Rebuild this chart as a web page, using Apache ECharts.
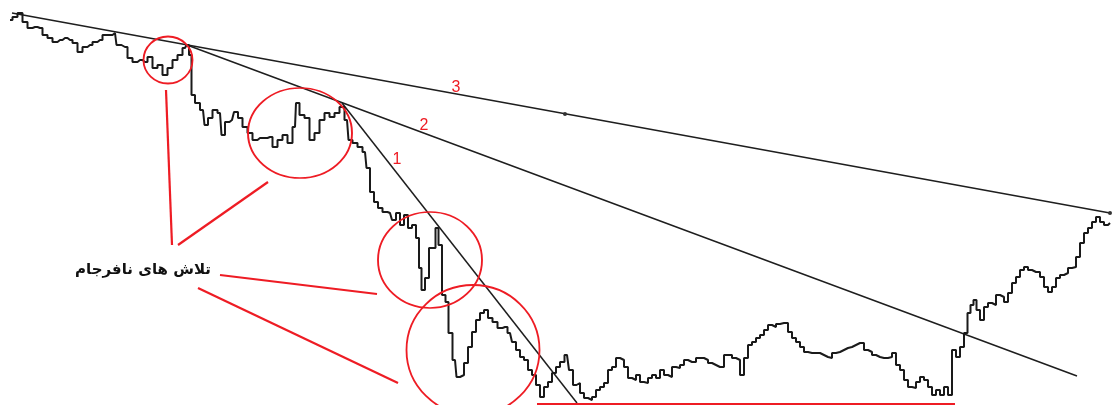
<!DOCTYPE html>
<html>
<head>
<meta charset="utf-8">
<script src="https://cdn.jsdelivr.net/npm/echarts@6/dist/echarts.min.js"></script>
<style>html,body{margin:0;padding:0;background:#fff}#c{width:1115px;height:405px}</style>
</head>
<body>
<div id="c"></div>
<script>
// price path: [time, price]
const priceBars = [
[10,385],[15,388],[20,392],[25,383],[30,377],[35,378],[40,377],[45,370],[50,367],[55,363],
[60,365],[65,367],[70,365],[75,362],[80,353],[85,358],[90,360],[95,363],[100,365],[105,370],
[110,370],[115,372],[118,360],[125,358],[130,347],[135,343],[140,345],[145,343],[150,348],[155,337],
[160,340],[165,330],[170,337],[175,345],[180,350],[185,357],[188,360],[190,350],[193,310],[197,302],
[203,295],[206,280],[210,287],[215,295],[220,292],[223,270],[227,283],[232,285],[236,293],[240,287],
[245,278],[250,272],[255,265],[260,267],[265,267],[270,268],[275,258],[280,265],[285,270],[290,262],
[295,278],[297,302],[302,290],[307,287],[312,265],[317,272],[322,285],[327,292],[332,288],[337,292],
[342,298],[347,285],[350,265],[355,262],[360,258],[365,253],[368,237],[372,213],[376,203],[380,197],
[385,193],[390,192],[394,185],[398,192],[402,180],[406,190],[410,177],[414,180],[418,167],[420,137],
[423,115],[427,127],[431,157],[434,157],[437,177],[440,160],[444,110],[447,103],[450,72],[455,45],
[458,28],[462,30],[466,42],[470,58],[474,73],[478,85],[482,92],[486,95],[490,87],[495,83],
[500,77],[505,78],[510,72],[514,63],[518,55],[522,48],[526,45],[530,35],[534,30],[538,20],
[542,8],[546,18],[550,23],[554,32],[558,38],[562,43],[567,50],[571,35],[575,20],[578,22],
[582,12],[586,7],[590,5],[594,8],[598,15],[602,18],[606,22],[610,35],[614,38],[618,47],
[622,45],[626,38],[630,27],[634,25],[638,30],[642,23],[646,22],[650,27],[654,30],[658,27],
[662,35],[666,30],[670,28],[674,38],[678,37],[682,40],[686,45],[690,43],[694,43],[698,47],
[702,47],[706,45],[710,42],[714,40],[718,38],[722,38],[726,50],[730,50],[734,47],[738,45],
[742,30],[746,47],[750,60],[754,63],[758,67],[762,70],[766,75],[770,80],[774,78],[778,81],
[782,82],[786,82],[790,73],[794,67],[798,63],[802,58],[806,53],[810,52],[814,52],[818,52],
[822,50],[826,48],[830,47],[834,52],[838,53],[842,55],[846,57],[850,58],[854,60],[858,62],
[862,62],[866,55],[870,53],[874,50],[878,48],[882,47],[886,47],[890,48],[894,52],[898,40],
[902,35],[906,25],[910,18],[914,17],[918,23],[922,28],[926,25],[930,18],[934,10],[938,15],
[942,10],[946,18],[950,10],[954,55],[958,48],[962,58],[966,72],[969,92],[972,100],[975,105],
[978,95],[982,85],[986,98],[990,102],[994,100],[998,110],[1002,108],[1006,103],[1010,112],[1014,122],
[1018,128],[1022,135],[1026,138],[1030,135],[1034,133],[1038,133],[1042,128],[1046,118],[1050,113],[1054,118],
[1058,127],[1062,130],[1066,132],[1070,137],[1074,138],[1078,148],[1082,162],[1086,172],[1090,177],[1094,183],
[1098,188],[1102,183],[1106,180],[1110,182]
];

// trend lines (start, end) and their labels
const trendLines = [
  [[12,392],[1110,192]],
  [[187,360],[1077,29]],
  [[342,302],[577,2]]
];
const trendDots = [[565,291],[1110,192]];
const trendLabels = [
  {name:'3', value:[456,317]},
  {name:'2', value:[424,279]},
  {name:'1', value:[397,245]}
];

// failed-attempt circles: centre [time, price]
const circleCentres = [[168,345],[300,272],[430,145],[473,55]];
const circleSizes = [[49,47],[104,90],[104,96],[133,130]];

// pointer lines from the caption to the circles
const pointerLines = [
  [[166,315],[172,160]],
  [[178,160],[268,223]],
  [[220,130],[377,111]],
  [[198,117],[398,22]]
];
const supportLine = [[537,1],[955,1]];
const caption = {text:'تلاش های نافرجام', at:[143,135]};

const RED = '#ee1c24';
const series = [];

series.push({
  type:'line', data:priceBars, showSymbol:false, clip:false, z:3, step:'middle',
  lineStyle:{color:'#1a1a1a', width:2}
});
trendLines.forEach(seg => series.push({
  type:'line', data:seg, showSymbol:false, clip:false, z:2,
  lineStyle:{color:'#1e1e1e', width:1.5}
}));
series.push({
  type:'scatter', data:trendDots, symbolSize:4, z:4,
  itemStyle:{color:'#333', opacity:1}
});
series.push({
  type:'scatter', z:5,
  data:trendLabels.map(d=>({name:d.name, value:d.value})),
  symbolSize:0,
  itemStyle:{opacity:1},
  label:{show:true, formatter:'{b}', color:RED, fontSize:16, fontFamily:'Liberation Sans, Arial, sans-serif', position:'inside'}
});
series.push({
  type:'scatter', z:6, clip:false,
  data:circleCentres.map((c,i)=>({value:c, symbolSize:circleSizes[i]})),
  symbol:'circle',
  itemStyle:{color:'rgba(0,0,0,0)', borderColor:RED, borderWidth:1.8, opacity:1}
});
pointerLines.forEach(seg => series.push({
  type:'line', data:seg, showSymbol:false, clip:false, z:5,
  lineStyle:{color:RED, width:2.2}
}));
series.push({
  type:'line', data:supportLine, showSymbol:false, clip:false, z:5,
  lineStyle:{color:RED, width:2.2}
});
series.push({
  type:'scatter', z:7,
  data:[{name:caption.text, value:caption.at}],
  symbolSize:0,
  itemStyle:{opacity:1},
  label:{show:true, formatter:'{b}', position:'inside', color:'#111', fontSize:15, fontWeight:'bold', fontFamily:'DejaVu Sans, sans-serif'}
});

const chart = echarts.init(document.getElementById('c'));
chart.setOption({
  animation:false,
  backgroundColor:'#fff',
  grid:{left:0, right:0, top:0, bottom:0},
  xAxis:{type:'value', min:0, max:1115, show:false},
  yAxis:{type:'value', min:0, max:405, show:false},
  series
});
</script>
</body>
</html>
